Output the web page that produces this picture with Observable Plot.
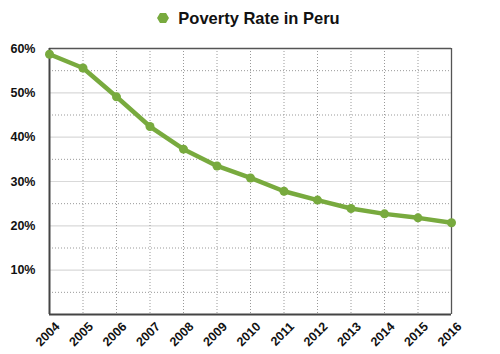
<!DOCTYPE html>
<html><head><meta charset="utf-8">
<script src="https://cdn.jsdelivr.net/npm/d3@7"></script>
<script src="https://cdn.jsdelivr.net/npm/@observablehq/plot@0.6"></script>
<style>
body{margin:0;background:#fff;font-family:"Liberation Sans",Arial,sans-serif;}
#wrap{width:500px;height:354px;position:relative;}
#title{height:30px;display:flex;align-items:center;justify-content:center;font-weight:bold;font-size:16.5px;color:#111;box-sizing:border-box;padding-top:6px;padding-right:4px}
#title svg{margin-right:8px}
</style></head>
<body><div id="wrap"><div id="title"><svg width="14" height="12" viewBox="-7 -6 14 12"><polygon points="-6,0 -3,-5 3,-5 6,0 3,5 -3,5" fill="#78aa3e"/></svg><span>Poverty Rate in Peru</span></div><div id="chart"></div></div>
<script>
const years = [2004,2005,2006,2007,2008,2009,2010,2011,2012,2013,2014,2015,2016];
const rates = [58.7,55.6,49.1,42.4,37.3,33.5,30.8,27.8,25.8,23.9,22.7,21.8,20.7];
const yTicks = [10,20,30,40,50,60];
const yMinor = [5,15,25,35,45,55];
const data = years.map((y,i)=>({year:y, rate:rates[i]}));
const green = "#78aa3e";
const chart = Plot.plot({
  width:500, height:324,
  marginTop:18, marginBottom:40, marginLeft:49, marginRight:49,
  style:{fontFamily:"Liberation Sans, Arial, sans-serif", fontSize:"12.5px", fontWeight:"bold", color:"#111"},
  x:{domain:[2004,2016], label:null},
  y:{domain:[0,60], label:null},
  marks:[
    Plot.axisX({ticks:years, tickFormat:d=>String(d), tickRotate:-45, tickSize:0, tickPadding:6, dx:8, dy:4, label:null}),
    Plot.axisY({ticks:yTicks, tickFormat:d=>d+"%", tickSize:0, tickPadding:14, label:null}),
    Plot.ruleY(yMinor,{stroke:"#999",strokeDasharray:"1,2",strokeWidth:1}),
    Plot.ruleY([10,20,30,40,50],{stroke:"#d9d9d9",strokeWidth:1.2}),
    Plot.ruleX(years.slice(1,-1),{stroke:"#999",strokeDasharray:"1,2",strokeWidth:1}),
    Plot.ruleY([60],{stroke:"#555",strokeWidth:1.3}),
    Plot.ruleX([2016],{stroke:"#555",strokeWidth:1.3}),
    Plot.ruleX([2004],{stroke:"#444",strokeWidth:2}),
    Plot.ruleY([0],{stroke:"#444",strokeWidth:2}),
    Plot.line(data,{x:"year",y:"rate",stroke:green,strokeWidth:4.5,strokeLinejoin:"round"}),
    Plot.dot(data,{x:"year",y:"rate",fill:green,r:4.5})
  ]
});
document.getElementById("chart").appendChild(chart);
</script></body></html>
